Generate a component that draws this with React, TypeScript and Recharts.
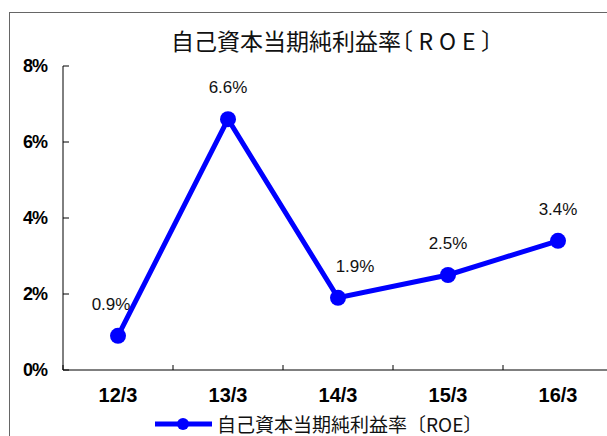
import React from "react"
import { LineChart, Line, XAxis, YAxis, Legend, LabelList } from "recharts"

const periods = ["12/3", "13/3", "14/3", "15/3", "16/3"]
const roe = [0.9, 6.6, 1.9, 2.5, 3.4]
const yTicks = [0, 2, 4, 6, 8]
const seriesName = "自己資本当期純利益率〔ROE〕"

// slot = category index on a numeric axis, so the axis can carry both the
// category labels (whole numbers) and the tick marks between them (halves)
const data = periods.map((p, i) => ({ period: p, slot: i, roe: roe[i] }))
const xTicks: number[] = []
periods.forEach((_, i) => xTicks.push(i - 0.5, i))
xTicks.push(periods.length - 0.5)

const LATIN = "'Liberation Sans', Arial, sans-serif"
const CJK = "'Noto Sans CJK JP', 'Noto Sans', sans-serif"
const BLUE = "#0000ff"

// a couple of labels were nudged sideways in the original
const labelShift = [-7, 0, 17, 0, 0]

const renderLabel = (props: any) => {
  const { x, y, value, index } = props
  return (
    <text
      x={x + (labelShift[index] || 0)}
      y={y - 26}
      textAnchor="middle"
      fontFamily={LATIN}
      fontSize={17}
      fill="#111"
    >
      {`${value}%`}
    </text>
  )
}

const CategoryTick = (props: any) => {
  const { x, y, payload } = props
  const v = payload.value
  if (Number.isInteger(v)) {
    return (
      <text x={x} y={y + 32} textAnchor="middle" fill="#000" fontFamily={LATIN} fontSize={20} fontWeight="bold">
        {periods[v]}
      </text>
    )
  }
  return <line x1={x} y1={y} x2={x} y2={y - 5} stroke="#000" strokeWidth={1} />
}

const LegendBox = () => (
  <div style={{ display: "flex", alignItems: "center", fontFamily: CJK, fontSize: 19, color: "#111", whiteSpace: "nowrap" }}>
    <svg width={58} height={14}>
      <line x1={0} y1={7} x2={57} y2={7} stroke={BLUE} strokeWidth={5} />
      <circle cx={28} cy={7} r={6} fill={BLUE} />
    </svg>
    <span style={{ marginLeft: 4 }}>{seriesName}</span>
  </div>
)

export default function App() {
  return (
    <div
      style={{
        position: "absolute",
        left: 0,
        top: 0,
        width: 607,
        height: 436,
        overflow: "hidden",
        background: "#fff",
      }}
    >
      <div
        style={{
          position: "absolute",
          left: 9,
          top: 12,
          width: 640,
          height: 460,
          border: "1px solid #666",
        }}
      />
      <div
        style={{
          position: "absolute",
          left: 0,
          top: 28,
          width: 664,
          textAlign: "center",
          fontFamily: CJK,
          fontSize: 23,
          lineHeight: "25px",
          color: "#111",
          fontFeatureSettings: '"palt"',
          whiteSpace: "nowrap",
        }}
      >
        自己資本当期純利益率〔<span style={{ letterSpacing: 6, marginLeft: 6 }}>ROE</span>〕
      </div>
      <LineChart
        width={625}
        height={436}
        data={data}
        margin={{ top: 66, right: 12, bottom: 36, left: 0 }}
        style={{ position: "absolute", left: 0, top: 0 }}
      >
        <XAxis
          dataKey="slot"
          type="number"
          domain={[-0.5, periods.length - 0.5]}
          allowDataOverflow
          ticks={xTicks}
          interval={0}
          tick={<CategoryTick />}
          tickLine={false}
          tickSize={0}
          tickMargin={0}
          height={30}
          stroke="#000"
        />
        <YAxis
          domain={[0, 8]}
          ticks={yTicks}
          width={63}
          tickSize={-6}
          tickMargin={22}
          tickFormatter={(v) => `${v}%`}
          stroke="#000"
          tick={{ fill: "#000", fontFamily: LATIN, fontSize: 18, fontWeight: "bold", letterSpacing: -1 }}
        />
        <Legend
          verticalAlign="middle"
          align="center"
          content={() => <LegendBox />}
          wrapperStyle={{ top: 410, left: 155, width: "auto" }}
        />
        <Line
          dataKey="roe"
          name={seriesName}
          stroke={BLUE}
          strokeWidth={5}
          dot={{ r: 8, fill: BLUE, stroke: BLUE, strokeWidth: 0 }}
          isAnimationActive={false}
        >
          <LabelList dataKey="roe" content={renderLabel} />
        </Line>
      </LineChart>
    </div>
  )
}
